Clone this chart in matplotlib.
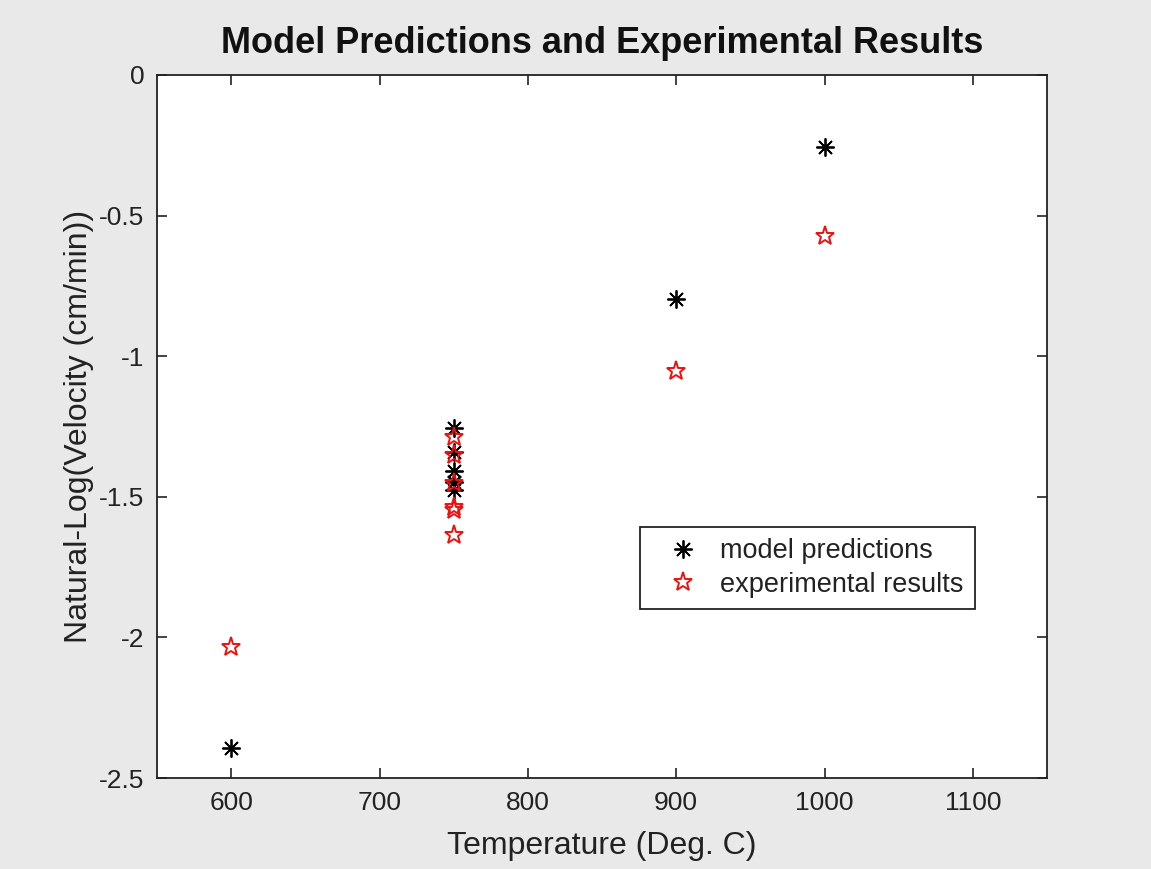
import matplotlib
matplotlib.use("Agg")
import matplotlib.pyplot as plt

plt.rcParams['font.family'] = ['Liberation Sans', 'DejaVu Sans']

# Data
model_temp = [600, 750, 750, 750, 750, 750, 900, 1000]
model_lnv = [-2.393, -1.257, -1.339, -1.407, -1.446, -1.475, -0.798, -0.256]
exp_temp = [600, 750, 750, 750, 750, 750, 750, 900, 1000]
exp_lnv = [-2.033, -1.289, -1.350, -1.450, -1.535, -1.548, -1.635, -1.051, -0.573]

xticks = [600, 700, 800, 900, 1000, 1100]
yticks = [-2.5, -2, -1.5, -1, -0.5, 0]
yticklabels = ['-2.5', '-2', '-1.5', '-1', '-0.5', '0']

bg = '#e9e9e9'
fig = plt.figure(figsize=(11.51, 8.69), dpi=100, facecolor=bg)
ax = fig.add_axes([157/1151, 1 - 778/869, 890/1151, 703/869])
ax.set_facecolor('white')

ax.plot(model_temp, model_lnv, linestyle='none', marker=(8, 2, 0), color='black',
        markersize=13, markeredgewidth=1.3, label='model predictions')
ax.plot(exp_temp, exp_lnv, linestyle='none', marker='*', markerfacecolor='none',
        markeredgecolor='#ee1111', markersize=14, markeredgewidth=1.4,
        label='experimental results')

ax.set_xlim(550, 1150)
ax.set_ylim(-2.5, 0)
ax.set_xticks(xticks)
ax.set_xticklabels([str(t) for t in xticks])
ax.set_yticks(yticks)
ax.set_yticklabels(yticklabels)
ax.tick_params(direction='in', length=7, width=1.2, top=True, right=True,
               labelsize=19, colors='#222222', pad=9)
for s in ax.spines.values():
    s.set_linewidth(1.3)
    s.set_color('#222222')

ax.set_xlabel('Temperature (Deg. C)', fontsize=23, color='#222222', labelpad=12)
ax.set_ylabel('Natural-Log(Velocity (cm/min))', fontsize=23, color='#222222', labelpad=4)
ax.set_title('Model Predictions and Experimental Results', fontsize=26,
             fontweight='bold', color='#111111', pad=16)

leg = ax.legend(loc='upper left', bbox_to_anchor=((640-157)/890, (778-527)/703),
                borderaxespad=0, fancybox=False, framealpha=1, edgecolor='#222222',
                fontsize=19.5, handletextpad=0.25, borderpad=0.42, labelspacing=0.28,
                handlelength=2.3)
leg.get_frame().set_linewidth(1.3)
for t in leg.get_texts():
    t.set_color('#222222')

fig.savefig('out.png', dpi=100, facecolor=bg)
